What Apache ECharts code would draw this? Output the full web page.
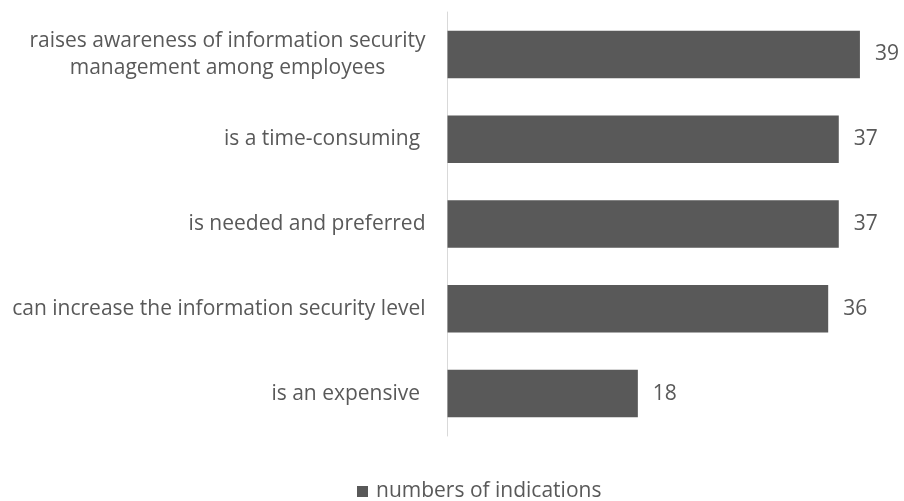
<!DOCTYPE html>
<html>
<head>
<meta charset="utf-8">
<style>
  html, body { margin: 0; padding: 0; background: #ffffff; }
  #chart { width: 904px; height: 501px; }
</style>
<script src="https://cdn.jsdelivr.net/npm/echarts@6/dist/echarts.min.js"></script>
</head>
<body>
<div id="chart"></div>
<script>
// Statements about the approach, listed top to bottom
const categories = [
  'raises awareness of information security\nmanagement among employees',
  'is a time-consuming ',
  'is needed and preferred',
  'can increase the information security level',
  'is an expensive '
];
const indications = [39, 37, 37, 36, 18];
const seriesName = 'numbers of indications';

const FONT = 'Open Sans';
const TEXT = '#595959';
const FS = 21;

const chart = echarts.init(document.getElementById('chart'), null, { renderer: 'canvas' });

chart.setOption({
  animation: false,
  backgroundColor: '#ffffff',
  textStyle: { fontFamily: FONT },
  grid: { left: 447.5, right: 33.5, top: 12, bottom: 65, containLabel: false },
  legend: {
    top: 476,
    left: 352,
    itemWidth: 11,
    itemHeight: 11,
    icon: 'rect',
    itemGap: 10,
    itemStyle: { color: '#595959' },
    textStyle: { color: TEXT, fontSize: FS, fontFamily: FONT, padding: [0, 0, 0, 3] },
    data: [seriesName]
  },
  xAxis: {
    type: 'value',
    min: 0,
    max: 40,
    show: false
  },
  yAxis: {
    type: 'category',
    inverse: true,
    data: categories,
    axisLine: { show: true, lineStyle: { color: '#d9d9d9', width: 1 } },
    axisTick: { show: false },
    splitLine: { show: false },
    axisLabel: {
      margin: 22,
      color: TEXT,
      fontSize: FS,
      fontFamily: FONT,
      lineHeight: 27,
      formatter: function (v) {
        if (v.indexOf('\n') >= 0) {
          return v.split('\n').map(function (l) { return '{c|' + l + '}'; }).join('\n');
        }
        return v;
      },
      rich: {
        c: { color: TEXT, fontSize: FS, fontFamily: FONT, lineHeight: 27, align: 'center', width: 396 }
      }
    }
  },
  series: [{
    name: seriesName,
    type: 'bar',
    data: indications,
    barCategoryGap: '44%',
    itemStyle: { color: '#595959' },
    label: {
      show: true,
      position: 'right',
      distance: 15,
      color: TEXT,
      fontSize: FS,
      fontFamily: FONT
    }
  }]
});
</script>
</body>
</html>
